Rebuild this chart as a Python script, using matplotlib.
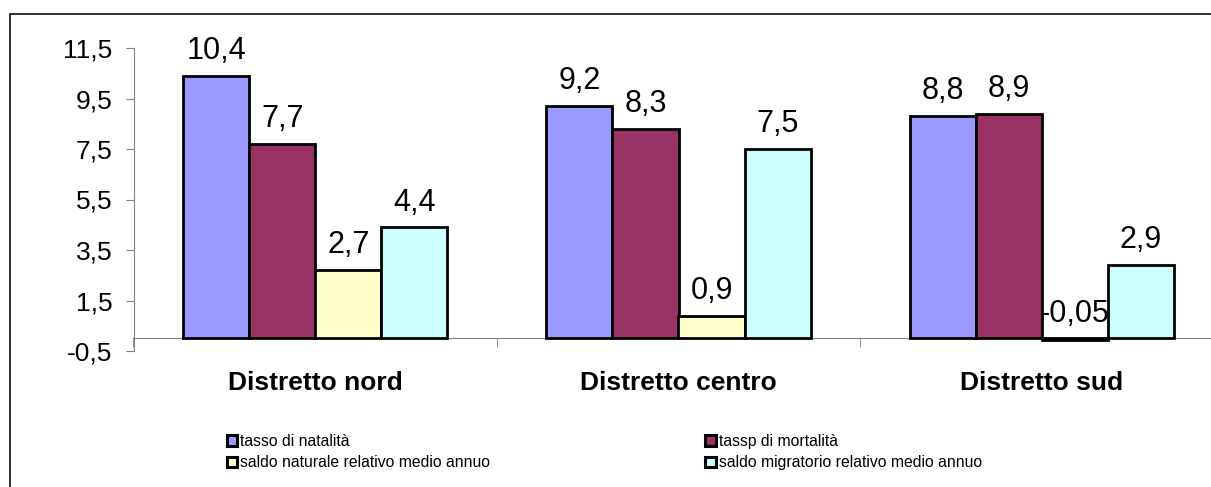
import numpy as np
import matplotlib.pyplot as plt
from matplotlib.patches import Patch, Rectangle

plt.rcParams['font.family'] = ['Liberation Sans', 'DejaVu Sans']

# data
districts = ['Distretto nord', 'Distretto centro', 'Distretto sud']
series = ['tasso di natalità', 'tassp di mortalità',
          'saldo naturale relativo medio annuo', 'saldo migratorio relativo medio annuo']
natalita = [10.4, 9.2, 8.8]
mortalita = [7.7, 8.3, 8.9]
naturale = [2.7, 0.9, -0.05]
migratorio = [4.4, 7.5, 2.9]
yticks = [-0.5, 1.5, 3.5, 5.5, 7.5, 9.5, 11.5]

values = [natalita, mortalita, naturale, migratorio]
colors = ['#9999FF', '#993366', '#FFFFCC', '#CCFFFF']


def fmt(v):
    return f"{v:g}".replace('.', ',')


fig = plt.figure(figsize=(12.11, 4.87), dpi=100)
ax = fig.add_axes([133.5 / 1211, 1 - 351 / 487, 1090 / 1211, 303 / 487])

# spines first: moving a spine resets the ticks
for s in ['top', 'right']:
    ax.spines[s].set_visible(False)
ax.spines['bottom'].set_position(('data', 0))
ax.spines['bottom'].set_color('#808080')
ax.spines['left'].set_color('#808080')
ax.patch.set_visible(False)

x = np.arange(len(districts))
w = 1 / 5.5
for i, (vals, c) in enumerate(zip(values, colors)):
    pos = x + (i - 1.5) * w
    ax.bar(pos, vals, width=w, color=c, edgecolor='black', linewidth=2, zorder=3)
    for p, v in zip(pos, vals):
        ax.annotate(fmt(v), (p, max(v, 0)), xytext=(0, 7), textcoords='offset points',
                    ha='center', va='bottom', fontsize=22, zorder=4)

ax.set_xlim(-0.5, 2.5)
ax.set_ylim(-0.5, 11.5)
ax.set_yticks(yticks)
ax.set_yticklabels([fmt(t) for t in yticks], fontsize=19)
ax.set_xticks(x)
ax.set_xticklabels(districts, fontsize=19, fontweight='bold')
ax.set_xticks([-0.5, 0.5, 1.5, 2.5], minor=True)
ax.tick_params(axis='x', which='major', length=0, pad=23.5)
ax.tick_params(axis='x', which='minor', length=6.5, color='#808080', direction='out')
ax.tick_params(axis='y', length=6, color='#808080', pad=9)

# chart border (cut by the image on right and bottom)
fig.add_artist(Rectangle((9.5 / 1211, -0.2), 1.5, 1.2 - 13.5 / 487, transform=fig.transFigure,
                         fill=False, edgecolor='#222222', linewidth=1.3))

handles = [Patch(facecolor=c, edgecolor='black', linewidth=2.2) for c in colors]
order = [0, 2, 1, 3]
fig.legend([handles[k] for k in order], [series[k] for k in order], ncol=2,
           loc='upper left', bbox_to_anchor=(227 / 1211, 1 - 434 / 487),
           frameon=False, borderpad=0, borderaxespad=0,
           prop={'size': 11.3},
           handlelength=0.65, handleheight=0.65, handletextpad=0.2,
           labelspacing=0.4, columnspacing=13.7)

fig.savefig('out.png', dpi=100)
